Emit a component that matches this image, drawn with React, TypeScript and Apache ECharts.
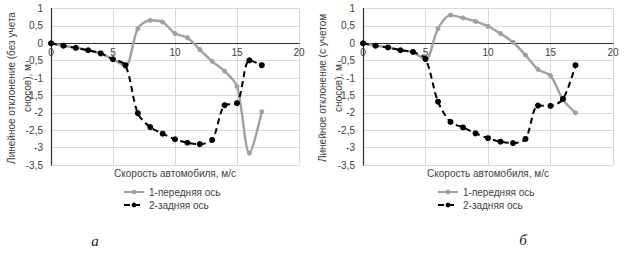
import React, { useEffect, useRef } from "react";
import * as echarts from "echarts";

const speeds = [0, 1, 2, 3, 4, 5, 6, 7, 8, 9, 10, 11, 12, 13, 14, 15, 16, 17];
const leftFront = [0, -0.07, -0.13, -0.2, -0.29, -0.46, -0.66, 0.42, 0.66, 0.61, 0.28, 0.16, -0.18, -0.52, -0.8, -1.24, -3.16, -1.97];
const leftRear = [0, -0.07, -0.13, -0.2, -0.29, -0.46, -0.63, -2.01, -2.41, -2.6, -2.76, -2.86, -2.9, -2.78, -1.78, -1.72, -0.49, -0.63];
const rightFront = [0, -0.07, -0.12, -0.2, -0.26, -0.47, 0.42, 0.81, 0.73, 0.63, 0.49, 0.28, 0.03, -0.34, -0.75, -0.93, -1.62, -2.0];
const rightRear = [0, -0.07, -0.12, -0.2, -0.25, -0.45, -1.68, -2.26, -2.42, -2.59, -2.73, -2.83, -2.87, -2.75, -1.79, -1.8, -1.6, -0.63];

const frontName = "1-передняя ось";
const rearName = "2-задняя ось";
const xName = "Скорость автомобиля, м/с";
const yNameLeft = "Линейное отклонение (без учета\nсносов), м";
const yNameRight = "Линейное отклонение (с учетом\nсносов), м";

const FONT = "Liberation Sans, Arial, sans-serif";
const TXT = "#404040";
const GRAY = "#a0a0a0";

const Y_MIN = -3.5;
const Y_MAX = 1;
const GRID_TOP = 8.5;
const GRID_H = 156.5;

function pairs(ys: number[]) {
  return speeds.map((x, i) => [x, ys[i]]);
}

export default function App() {
  const ref = useRef<HTMLDivElement>(null);
  useEffect(() => {
    if (!ref.current) return;
    const chart = echarts.init(ref.current, undefined, { renderer: "svg" });
    // distance from bottom of grid to y = 0 line
    const zeroOffset = -(GRID_H * (0 - Y_MIN)) / (Y_MAX - Y_MIN);
    const xAxis = (gi: number) => ({
      type: "value",
      gridIndex: gi,
      min: 0,
      max: 20,
      interval: 5,
      position: "bottom",
      offset: zeroOffset,
      axisLine: { onZero: false, lineStyle: { color: "#303030", width: 1.2 } },
      axisTick: { show: false },
      axisLabel: { color: TXT, fontSize: 10, fontFamily: FONT, margin: 4 },
      splitLine: { show: true, lineStyle: { color: "#d9d9d9", width: 1 } },
    });
    const yAxis = (gi: number) => ({
      type: "value",
      gridIndex: gi,
      min: Y_MIN,
      max: Y_MAX,
      interval: 0.5,
      axisLine: { show: true, onZero: false, lineStyle: { color: "#303030", width: 1.2 } },
      axisTick: { show: false },
      axisLabel: {
        color: TXT,
        fontSize: 10,
        fontFamily: FONT,
        margin: 8,
        formatter: (v: number) => String(v).replace(".", ","),
      },
      splitLine: { show: true, lineStyle: { color: "#d9d9d9", width: 1 } },
    });
    const front = (gi: number, ys: number[]) => ({
      type: "line",
      name: frontName,
      xAxisIndex: gi,
      yAxisIndex: gi,
      data: pairs(ys),
      smooth: 0.3,
      symbol: "circle",
      symbolSize: 5,
      itemStyle: { color: GRAY },
      lineStyle: { color: GRAY, width: 2.4 },
      z: 2,
    });
    const rear = (gi: number, ys: number[]) => ({
      type: "line",
      name: rearName,
      xAxisIndex: gi,
      yAxisIndex: gi,
      data: pairs(ys),
      smooth: 0.3,
      symbol: "circle",
      symbolSize: 6,
      itemStyle: { color: "#000" },
      lineStyle: { color: "#000", width: 2, type: [6, 4] },
      z: 3,
    });
    const legend = (left: number) => ({
      left,
      top: 187,
      orient: "vertical",
      itemGap: 3,
      itemWidth: 20,
      itemHeight: 6,
      textStyle: { color: TXT, fontSize: 10, fontFamily: FONT },
      padding: 0,
      data: [frontName, rearName],
    });
    chart.setOption({
      animation: false,
      grid: [
        { left: 51, top: GRID_TOP, width: 248, height: GRID_H },
        { left: 363, top: GRID_TOP, width: 250, height: GRID_H },
      ],
      xAxis: [xAxis(0), xAxis(1)],
      yAxis: [yAxis(0), yAxis(1)],
      legend: [legend(123), legend(437)],
      series: [front(0, leftFront), rear(0, leftRear), front(1, rightFront), rear(1, rightRear)],
      graphic: [
        { type: "text", x: 175, y: 173, style: { text: xName, fill: TXT, font: `10px ${FONT}`, align: "center", verticalAlign: "middle" } },
        { type: "text", x: 488, y: 173, style: { text: xName, fill: TXT, font: `10px ${FONT}`, align: "center", verticalAlign: "middle" } },
        { type: "text", x: 19.5, y: 88, rotation: Math.PI / 2, style: { text: yNameLeft, fill: TXT, font: `10px ${FONT}`, align: "center", verticalAlign: "middle", lineHeight: 16 } },
        { type: "text", x: 330, y: 88, rotation: Math.PI / 2, style: { text: yNameRight, fill: TXT, font: `10px ${FONT}`, align: "center", verticalAlign: "middle", lineHeight: 16 } },
        { type: "text", x: 95, y: 241, style: { text: "а", fill: "#222", font: `italic 15px Liberation Serif, serif`, align: "center", verticalAlign: "middle" } },
        { type: "text", x: 523, y: 240, style: { text: "б", fill: "#222", font: `italic 15px Liberation Serif, serif`, align: "center", verticalAlign: "middle" } },
      ],
    });
    return () => chart.dispose();
  }, []);
  return <div ref={ref} style={{ position: "fixed", left: 0, top: 0, width: 624, height: 253, background: "#fff" }} />;
}
